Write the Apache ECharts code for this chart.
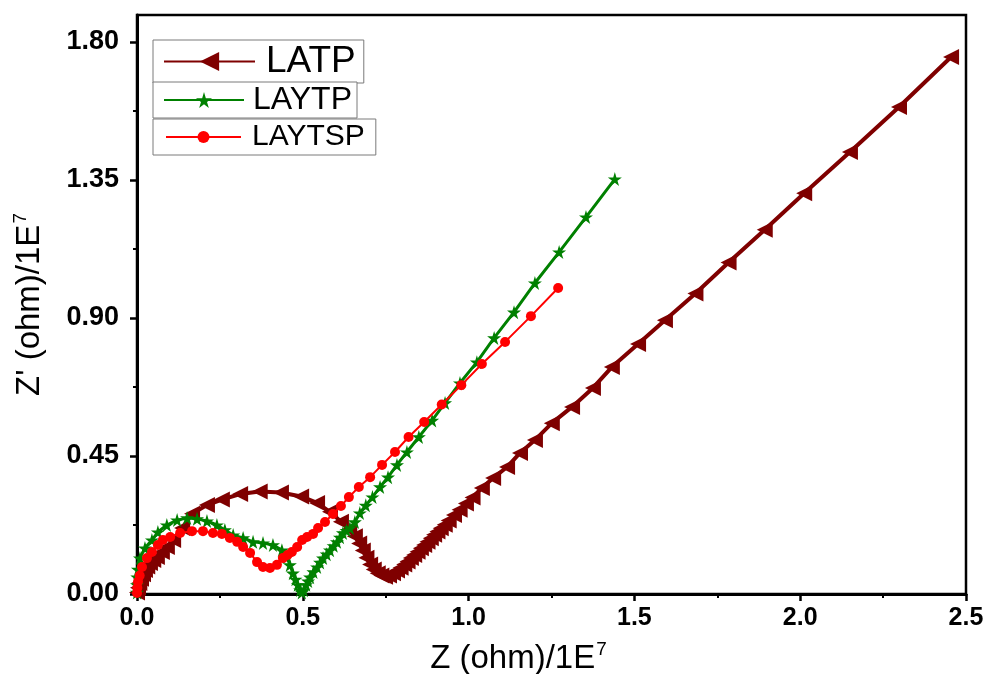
<!DOCTYPE html>
<html><head><meta charset="utf-8">
<script src="https://cdn.jsdelivr.net/npm/echarts@6/dist/echarts.min.js"></script>
<style>html,body{margin:0;padding:0;background:#fff}#c{width:987px;height:674px}</style>
</head><body><div id="c"></div>
<script>
const seriesNames = ['LATP', 'LAYTP', 'LAYTSP'];
const xTickValues = [0, 0.5, 1.0, 1.5, 2.0, 2.5];
const yTickValues = [0, 0.45, 0.90, 1.35, 1.80];
const yMinorTickValues = [0.225, 0.675, 1.125, 1.575];

const latpX = [0.000,0.003,0.007,0.012,0.018,0.024,0.031,0.039,0.049,0.060,0.075,0.090,0.109,0.136,0.166,0.211,0.256,0.311,0.370,0.434,0.495,0.543,0.582,0.615,0.640,0.657,0.670,0.681,0.692,0.703,0.714,0.726,0.737,0.748,0.760,0.772,0.784,0.795,0.806,0.816,0.826,0.836,0.846,0.856,0.866,0.876,0.886,0.896,0.906,0.916,0.928,0.940,0.956,0.973,0.992,1.012,1.040,1.074,1.116,1.155,1.200,1.251,1.312,1.375,1.432,1.511,1.592,1.684,1.784,1.893,2.012,2.150,2.298,2.455];
const latpY = [0.005,0.020,0.036,0.050,0.064,0.078,0.090,0.101,0.111,0.121,0.137,0.153,0.176,0.215,0.262,0.290,0.308,0.326,0.334,0.331,0.318,0.297,0.268,0.236,0.210,0.188,0.165,0.142,0.118,0.096,0.080,0.068,0.060,0.056,0.060,0.068,0.077,0.086,0.096,0.106,0.117,0.127,0.138,0.149,0.160,0.170,0.182,0.193,0.204,0.214,0.226,0.240,0.258,0.275,0.295,0.315,0.346,0.378,0.414,0.460,0.502,0.557,0.610,0.672,0.740,0.815,0.893,0.980,1.081,1.188,1.307,1.441,1.588,1.751];

const laytpX = [0.000,0.000,0.001,0.003,0.009,0.024,0.045,0.063,0.090,0.121,0.151,0.181,0.211,0.241,0.265,0.290,0.320,0.350,0.380,0.410,0.437,0.452,0.461,0.470,0.478,0.485,0.492,0.497,0.503,0.510,0.516,0.522,0.532,0.543,0.552,0.561,0.572,0.582,0.593,0.603,0.612,0.621,0.632,0.642,0.657,0.672,0.690,0.710,0.733,0.757,0.784,0.814,0.850,0.890,0.929,0.974,1.025,1.077,1.137,1.200,1.273,1.354,1.441];
const laytpY = [0.005,0.030,0.055,0.080,0.117,0.150,0.176,0.202,0.225,0.241,0.248,0.245,0.238,0.225,0.209,0.192,0.183,0.170,0.166,0.160,0.143,0.121,0.095,0.068,0.048,0.030,0.013,0.005,0.012,0.030,0.042,0.055,0.072,0.088,0.103,0.117,0.130,0.143,0.157,0.170,0.185,0.199,0.207,0.215,0.235,0.264,0.289,0.316,0.349,0.381,0.421,0.463,0.512,0.566,0.623,0.688,0.756,0.835,0.919,1.014,1.115,1.229,1.353];

const laytspX = [0.000,0.001,0.003,0.008,0.015,0.030,0.045,0.063,0.078,0.100,0.130,0.166,0.199,0.229,0.256,0.280,0.302,0.320,0.341,0.362,0.380,0.401,0.422,0.440,0.454,0.467,0.483,0.498,0.513,0.531,0.546,0.567,0.591,0.615,0.639,0.669,0.703,0.739,0.778,0.819,0.866,0.919,0.978,1.040,1.110,1.188,1.270];
const laytspY = [0.003,0.020,0.040,0.060,0.088,0.117,0.137,0.160,0.176,0.186,0.199,0.205,0.205,0.199,0.196,0.183,0.170,0.153,0.134,0.104,0.088,0.085,0.095,0.117,0.127,0.137,0.153,0.176,0.186,0.196,0.215,0.235,0.261,0.287,0.316,0.349,0.381,0.421,0.463,0.512,0.561,0.618,0.681,0.750,0.822,0.906,0.998];

const zip = (xs, ys) => xs.map((x, i) => [x, ys[i]]);
const FONT = 'Liberation Sans, Arial, sans-serif';
const STAR = 'path://M50,0 L61,35 L98,35 L68,57 L79,91 L50,70 L21,91 L32,57 L2,35 L39,35 Z';

const chart = echarts.init(document.getElementById('c'), null, {renderer: 'canvas'});

const axisNameRich = {
  a: {fontFamily: FONT, fontSize: 33, color: '#000', lineHeight: 38},
  s: {fontFamily: FONT, fontSize: 19, color: '#000', verticalAlign: 'top', lineHeight: 38, padding: [0, 0, 17, 1]}
};

const legendBase = {
  orient: 'horizontal',
  borderColor: '#7a7a7a',
  borderWidth: 1,
  backgroundColor: '#fff',
  borderRadius: 0,
  itemGap: 0,
  selectedMode: false
};

chart.setOption({
  animation: false,
  backgroundColor: '#fff',
  grid: {left: 137, right: 21, top: 15, bottom: 80, containLabel: false, outerBoundsMode: 'none',
    show: true, borderColor: '#000', borderWidth: 2.5, backgroundColor: 'transparent'},
  legend: [
    Object.assign({}, legendBase, {data: [seriesNames[0]], left: 153, top: 40, padding: [3, 8, 3, 10], itemWidth: 91, itemHeight: 24,
      textStyle: {fontFamily: FONT, fontSize: 37, color: '#000', padding: [0, 0, 0, 6]}}),
    Object.assign({}, legendBase, {data: [seriesNames[1]], left: 153, top: 82, padding: [2, 5, 2, 10], itemWidth: 80, itemHeight: 20,
      textStyle: {fontFamily: FONT, fontSize: 32, color: '#000', padding: [0, 0, 0, 4]}}),
    Object.assign({}, legendBase, {data: [seriesNames[2]], left: 153, top: 119, padding: [3, 11, 3, 12], itemWidth: 75, itemHeight: 15,
      textStyle: {fontFamily: FONT, fontSize: 30, color: '#000', padding: [0, 0, 0, 6]}})
  ],
  xAxis: {
    type: 'value', min: 0, max: 2.5, interval: 0.5,
    axisLine: {show: true, onZero: false, lineStyle: {color: '#000', width: 3}},
    axisTick: {show: true, inside: false, length: 7, lineStyle: {color: '#000', width: 2.5}},
    minorTick: {show: true, splitNumber: 2, length: 4, lineStyle: {color: '#000', width: 2}},
    splitLine: {show: false},
    axisLabel: {color: '#000', fontFamily: FONT, fontWeight: 'bold', fontSize: 25, margin: 12,
      formatter: v => v.toFixed(1)},
    name: '{a|Z (ohm)/1E}{s|7}', nameLocation: 'middle', nameGap: 46,
    nameTextStyle: {rich: axisNameRich, padding: [0, 66, 0, 0]}
  },
  yAxis: [
    {
      type: 'value', min: 0, max: 1.888, position: 'left',
      axisLine: {show: true, onZero: false, lineStyle: {color: '#000', width: 3}},
      axisTick: {show: true, inside: false, length: 7, customValues: yTickValues, lineStyle: {color: '#000', width: 2.5}},
      splitLine: {show: false},
      axisLabel: {color: '#000', fontFamily: FONT, fontWeight: 'bold', fontSize: 27, margin: 18, customValues: yTickValues,
        formatter: v => v.toFixed(2)},
      name: '{a|Z\' (ohm)/1E}{s|7}', nameLocation: 'middle', nameGap: 88, nameRotate: 90,
      nameTextStyle: {rich: axisNameRich}
    },
    {
      type: 'value', min: 0, max: 1.888, position: 'left', gridIndex: 0,
      axisLine: {show: false},
      axisTick: {show: true, inside: false, length: 4, customValues: yMinorTickValues, lineStyle: {color: '#000', width: 2}},
      splitLine: {show: false},
      axisLabel: {show: false}
    }
  ],
  series: [
    {
      name: seriesNames[0], type: 'line', data: zip(latpX, latpY),
      symbol: 'triangle', symbolRotate: 90, symbolSize: 16,
      lineStyle: {color: '#7f0000', width: 4}, itemStyle: {color: '#7f0000'}, z: 2
    },
    {
      name: seriesNames[1], type: 'line', data: zip(laytpX, laytpY),
      symbol: STAR, symbolSize: 14,
      lineStyle: {color: '#008000', width: 3}, itemStyle: {color: '#008000'}, z: 3
    },
    {
      name: seriesNames[2], type: 'line', data: zip(laytspX, laytspY),
      symbol: 'circle', symbolSize: 10,
      lineStyle: {color: '#ff0000', width: 2}, itemStyle: {color: '#ff0000'}, z: 4
    }
  ]
});
</script>
</body></html>
